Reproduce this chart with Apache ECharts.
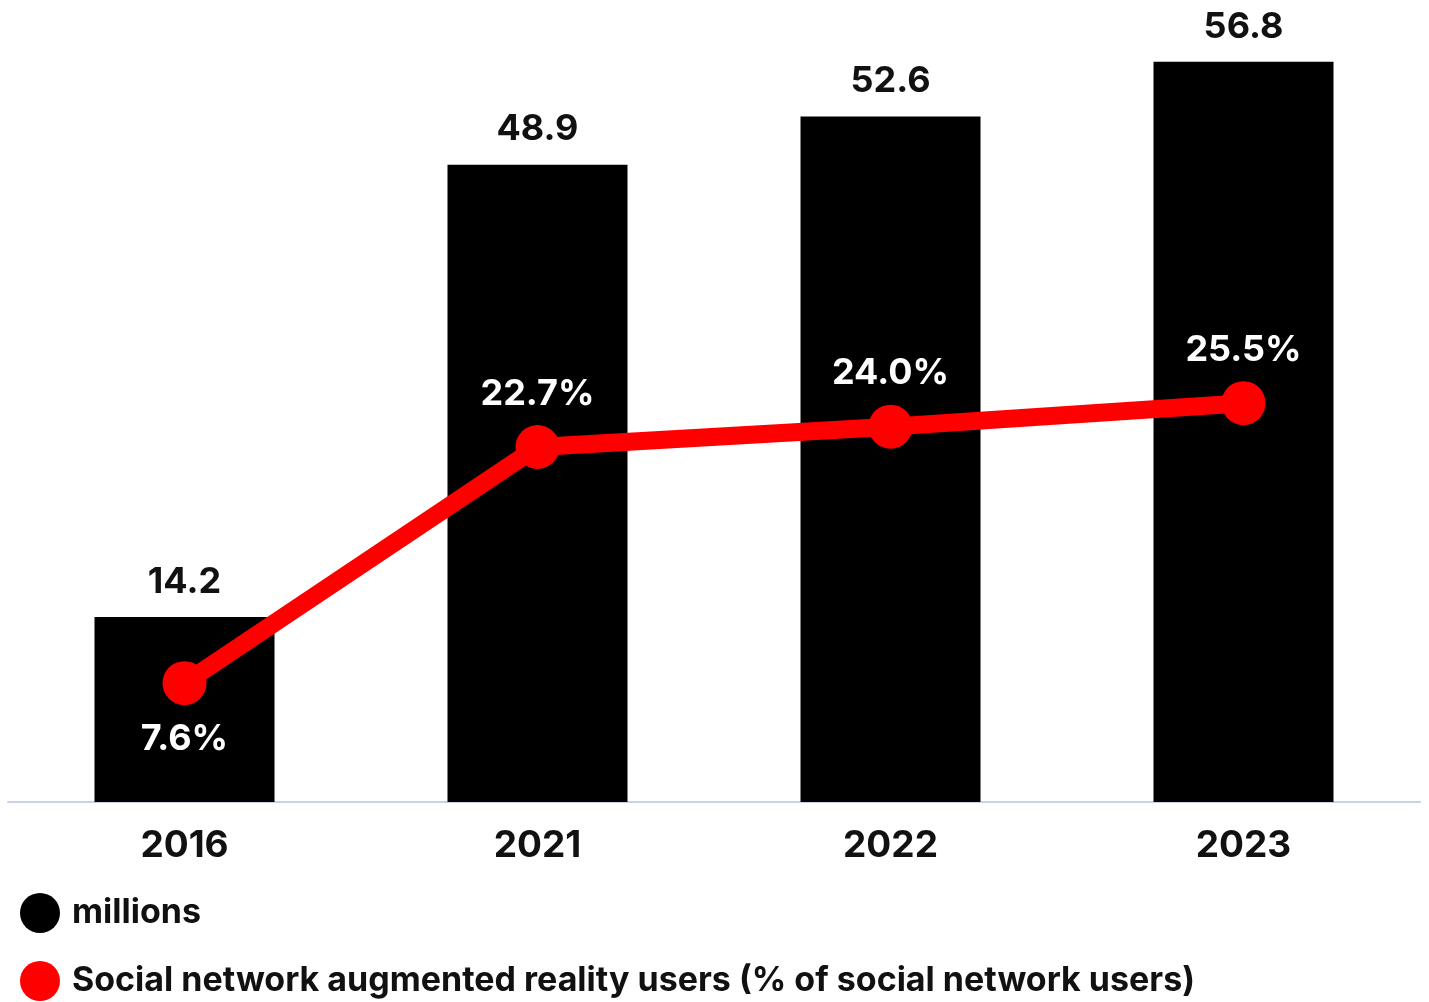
<!DOCTYPE html>
<html>
<head>
<meta charset="utf-8">
<script src="https://cdn.jsdelivr.net/npm/echarts@6/dist/echarts.min.js"></script>
<style>html,body{margin:0;padding:0;background:#fff}#c{width:1429px;height:1002px}</style>
</head>
<body>
<div id="c"></div>
<script>
const categories = ['2016', '2021', '2022', '2023'];
const millions = [14.2, 48.9, 52.6, 56.8];
const sharePct = [7.6, 22.7, 24.0, 25.5];
const seriesNames = ['millions', 'Social network augmented reality users (% of social network users)'];

const chart = echarts.init(document.getElementById('c'));
const font = 'Inter, "Noto Sans", sans-serif';
chart.setOption({
  animation: false,
  backgroundColor: '#ffffff',
  grid: { left: 8, right: 9, top: 20, bottom: 200, containLabel: false },
  legend: {
    orient: 'vertical',
    left: 20,
    top: 893,
    padding: 0,
    itemWidth: 40,
    itemHeight: 40,
    itemGap: 28,
    icon: 'circle',
    textStyle: { fontFamily: font, fontWeight: 'bold', fontSize: 34, color: '#111', padding: [6, 0, 0, 7] },
    data: seriesNames
  },
  xAxis: {
    type: 'category',
    data: categories,
    axisLine: { lineStyle: { color: '#c9d1e6', width: 2 } },
    axisTick: { show: false },
    axisLabel: { fontFamily: font, fontWeight: 'bold', fontSize: 37, color: '#111', margin: 25 }
  },
  yAxis: [
    { type: 'value', min: 0, max: 60, show: false, splitLine: { show: false } },
    { type: 'value', min: 0, max: 50, show: false, splitLine: { show: false } }
  ],
  series: [
    {
      name: seriesNames[0],
      type: 'bar',
      data: millions,
      barWidth: 180,
      itemStyle: { color: '#000000' },
      label: {
        show: true, position: 'top', distance: 17,
        fontFamily: font, fontWeight: 'bold', fontSize: 36, color: '#111',
        formatter: p => p.value.toFixed(1)
      }
    },
    {
      name: seriesNames[1],
      type: 'line',
      yAxisIndex: 1,
      data: sharePct.map((v, i) => ({
        value: v,
        label: { position: i === 0 ? 'bottom' : 'top', distance: i === 0 ? 16 : 13 }
      })),
      symbol: 'circle',
      symbolSize: 44,
      lineStyle: { color: '#ff0000', width: 18 },
      itemStyle: { color: '#ff0000' },
      z: 5,
      label: {
        show: true,
        fontFamily: font, fontWeight: 'bold', fontSize: 36, color: '#ffffff',
        formatter: p => p.value.toFixed(1) + '%'
      }
    }
  ]
});
</script>
</body>
</html>
